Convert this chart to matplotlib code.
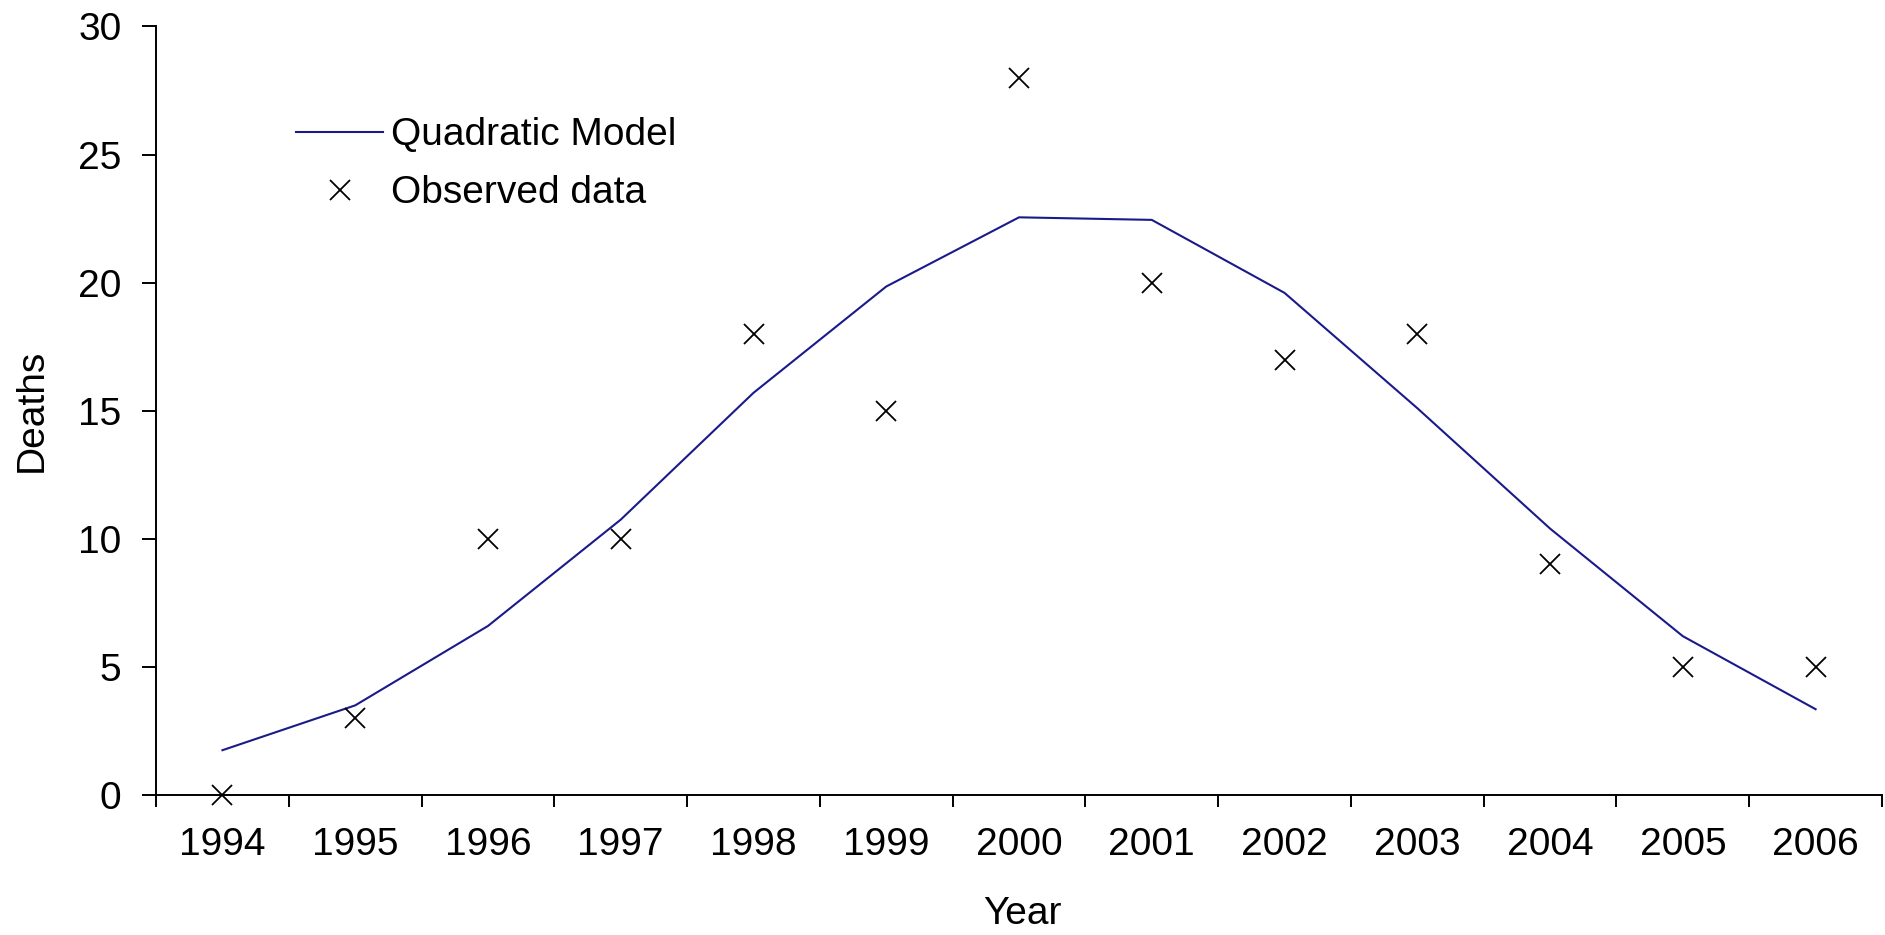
import matplotlib.pyplot as plt
import numpy as np

plt.rcParams['font.family'] = ['Liberation Sans', 'DejaVu Sans']

# Data
years = ['1994', '1995', '1996', '1997', '1998', '1999', '2000',
         '2001', '2002', '2003', '2004', '2005', '2006']
observed = [0, 3, 10, 10, 18, 15, 28, 20, 17, 18, 9, 5, 5]
model = [1.75, 3.5, 6.6, 10.75, 15.7, 19.85, 22.55, 22.45, 19.6, 15.1, 10.4, 6.2, 3.35]

fig = plt.figure(figsize=(18.85, 9.35), dpi=100)
ax = fig.add_axes([0.0828, 0.1497, 0.9156, 0.822])

x = np.arange(len(years))
ax.plot(x, model, color='#1a1a8a', linewidth=1.5, label='Quadratic Model')
ax.plot(x, observed, linestyle='none', marker='x', color='black',
        markersize=14, markeredgewidth=1.3, label='Observed data', clip_on=False)

ax.set_xlim(-0.5, len(years) - 0.5)
ax.set_ylim(0, 30)
ax.set_yticks(np.arange(0, 31, 5))

# category axis: ticks between categories, labels at centres
ax.set_xticks(np.arange(-0.5, len(years), 1.0))
ax.set_xticklabels([])
ax.set_xticks(x, minor=True)
ax.set_xticklabels(years, minor=True)
ax.tick_params(axis='x', which='major', direction='out', length=8.6, width=1.4, color='black')
ax.tick_params(axis='x', which='minor', length=0, pad=23, labelsize=28)
ax.tick_params(axis='y', direction='out', length=10, width=1.4, pad=15, labelsize=28)

for side in ['top', 'right']:
    ax.spines[side].set_visible(False)
for side in ['left', 'bottom']:
    ax.spines[side].set_linewidth(1.4)

ax.set_ylabel('Deaths', fontsize=28)
ax.set_xlabel('Year', fontsize=28)
ax.yaxis.set_label_coords(-0.0614, 0.5)
ax.xaxis.set_label_coords(0.502, -0.1315)

ax.legend(loc='upper left', bbox_to_anchor=(0.0811, 0.882), frameon=False,
          fontsize=28, handlelength=2.24, handletextpad=0.2,
          labelspacing=0.57, borderpad=0, borderaxespad=0)

plt.savefig('out.png', dpi=100)
